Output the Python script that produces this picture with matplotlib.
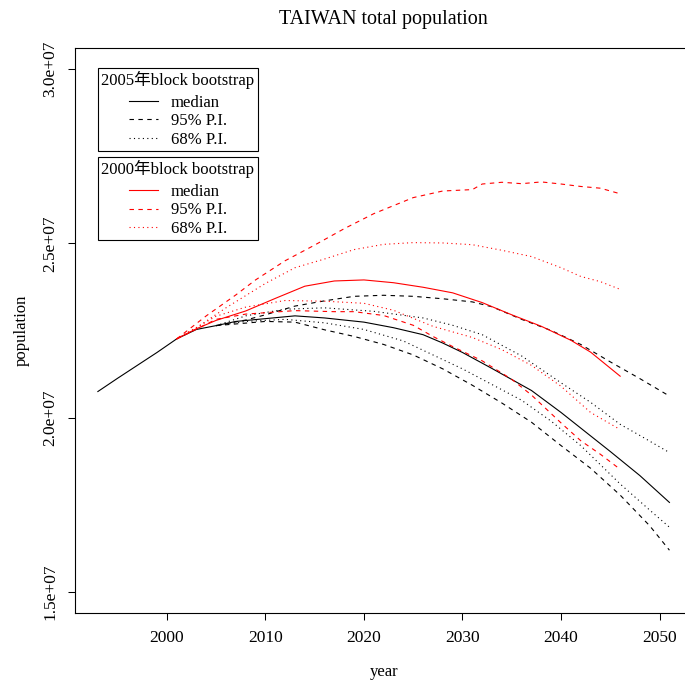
"""
TAIWAN total population projections: block bootstrap medians and
prediction intervals from the 2005 and 2000 base years.
"""

import matplotlib
matplotlib.use("Agg")
import matplotlib.pyplot as plt
from matplotlib.lines import Line2D

plt.rcParams["font.family"] = ["Liberation Serif", "Noto Sans CJK TC", "DejaVu Sans"]

# population in millions
# 2005 base year (black); median includes the observed series from 1993
b_med_years = [1993, 1995, 1997, 1999, 2001, 2003, 2005, 2007, 2010, 2013, 2016,
               2020, 2023, 2026, 2028, 2030, 2033, 2037, 2040, 2045, 2048, 2051]
b_med = [20.75, 21.13, 21.50, 21.87, 22.26, 22.53, 22.64, 22.76, 22.84, 22.92, 22.86,
         22.74, 22.58, 22.38, 22.14, 21.87, 21.41, 20.78, 20.15, 19.03, 18.34, 17.57]

b_hi95_years = [2005, 2008, 2010, 2013, 2016, 2019, 2022, 2025, 2028, 2031, 2033,
                2036, 2039, 2042, 2045, 2048, 2051]
b_hi95 = [22.64, 22.80, 22.95, 23.20, 23.35, 23.48, 23.51, 23.48, 23.41, 23.32, 23.18,
          22.82, 22.50, 22.10, 21.60, 21.12, 20.62]

b_hi68_years = [2005, 2008, 2012, 2016, 2021, 2026, 2029, 2032, 2036, 2040, 2043,
                2046, 2048, 2051]
b_hi68 = [22.64, 22.92, 23.11, 23.15, 23.05, 22.86, 22.65, 22.38, 21.77, 21.00, 20.44,
          19.81, 19.49, 19.00]

b_lo68_years = [2005, 2008, 2012, 2016, 2020, 2024, 2027, 2030, 2033, 2036, 2039,
                2042, 2046, 2049, 2051]
b_lo68 = [22.64, 22.76, 22.82, 22.72, 22.53, 22.20, 21.80, 21.40, 20.95, 20.50, 19.90,
          19.20, 18.10, 17.35, 16.86]

b_lo95_years = [2005, 2010, 2013, 2016, 2019, 2022, 2025, 2028, 2031, 2034, 2037,
                2040, 2043, 2046, 2049, 2051]
b_lo95 = [22.64, 22.76, 22.74, 22.52, 22.33, 22.10, 21.80, 21.40, 20.93, 20.42, 19.87,
          19.20, 18.55, 17.78, 16.90, 16.20]

# 2000 base year (red)
r_med_years = [2001, 2003, 2005, 2008, 2011, 2014, 2017, 2020, 2023, 2026, 2029,
               2032, 2035, 2038, 2041, 2043, 2046]
r_med = [22.26, 22.55, 22.79, 23.06, 23.42, 23.77, 23.92, 23.95, 23.87, 23.74, 23.58,
         23.30, 22.95, 22.62, 22.22, 21.88, 21.19]

r_hi95_years = [2001, 2004, 2007, 2009, 2012, 2015, 2018, 2021, 2025, 2028, 2031,
                2032, 2034, 2036, 2038, 2040, 2042, 2044, 2046]
r_hi95 = [22.26, 22.92, 23.52, 23.95, 24.50, 24.95, 25.42, 25.85, 26.31, 26.50, 26.54,
          26.70, 26.75, 26.71, 26.76, 26.70, 26.63, 26.58, 26.42]

r_hi68_years = [2001, 2003, 2006, 2008, 2010, 2013, 2016, 2019, 2022, 2025, 2028,
                2031, 2034, 2037, 2040, 2042, 2044, 2046]
r_hi68 = [22.26, 22.58, 23.15, 23.50, 23.85, 24.30, 24.55, 24.82, 24.97, 25.02, 25.01,
          24.96, 24.80, 24.62, 24.30, 24.05, 23.90, 23.68]

r_lo68_years = [2001, 2005, 2008, 2012, 2016, 2020, 2023, 2027, 2031, 2034, 2037,
                2040, 2043, 2046]
r_lo68 = [22.26, 22.91, 23.17, 23.36, 23.34, 23.28, 23.08, 22.62, 22.30, 21.95, 21.50,
          20.90, 20.15, 19.66]

r_lo95_years = [2001, 2005, 2008, 2013, 2017, 2019, 2022, 2025, 2027, 2029, 2032,
                2035, 2037, 2040, 2042, 2044, 2046]
r_lo95 = [22.26, 22.82, 22.97, 23.07, 23.04, 23.04, 22.93, 22.65, 22.33, 22.04, 21.63,
          21.10, 20.65, 19.85, 19.34, 18.95, 18.52]

x_ticks = [2000, 2010, 2020, 2030, 2040, 2050]
y_ticks = [1.5e7, 2.0e7, 2.5e7, 3.0e7]

DASHED = (0, (4, 4))
DOTTED = (0, (1, 3))
LW = 0.8


def pop(vals):
    return [v * 1e6 for v in vals]


fig = plt.figure(figsize=(6.85, 6.85), dpi=100)
# R-style plot region; the right edge runs past the figure
ax = fig.add_axes([75 / 685, 72 / 685, 617.3 / 685, 565 / 685])

ax.plot(b_med_years, pop(b_med), color="black", lw=LW)
ax.plot(b_hi95_years, pop(b_hi95), color="black", lw=LW, ls=DASHED)
ax.plot(b_lo95_years, pop(b_lo95), color="black", lw=LW, ls=DASHED)
ax.plot(b_hi68_years, pop(b_hi68), color="black", lw=LW, ls=DOTTED)
ax.plot(b_lo68_years, pop(b_lo68), color="black", lw=LW, ls=DOTTED)

ax.plot(r_med_years, pop(r_med), color="red", lw=LW)
ax.plot(r_hi95_years, pop(r_hi95), color="red", lw=LW, ls=DASHED)
ax.plot(r_lo95_years, pop(r_lo95), color="red", lw=LW, ls=DASHED)
ax.plot(r_hi68_years, pop(r_hi68), color="red", lw=LW, ls=DOTTED)
ax.plot(r_lo68_years, pop(r_lo68), color="red", lw=LW, ls=DOTTED)

# R pads each axis range by 4%
x0, x1 = 1993, 2051
ax.set_xlim(x0 - 0.04 * (x1 - x0), x1 + 0.04 * (x1 - x0))
y0, y1 = 1.5e7, 3.0e7
ax.set_ylim(y0 - 0.04 * (y1 - y0), y1 + 0.04 * (y1 - y0))

ax.set_xticks(x_ticks)
ax.set_xticklabels([str(t) for t in x_ticks])
ax.set_yticks(y_ticks)
ax.set_yticklabels([f"{t:.1e}" for t in y_ticks], rotation=90, va="center")
ax.tick_params(axis="both", direction="out", length=5, width=0.75, labelsize=12.5,
               colors="black")
ax.tick_params(axis="x", pad=7)
ax.tick_params(axis="y", pad=7)
for side in ("left", "bottom", "top", "right"):
    ax.spines[side].set_linewidth(0.8)

ax.set_title("TAIWAN total population", fontsize=14.5, pad=17)
ax.set_xlabel("year", fontsize=12, va="center")
ax.set_ylabel("population", fontsize=12, va="center")
ax.xaxis.set_label_coords(0.5, -0.1044)
ax.yaxis.set_label_coords(-0.0859, 0.5)


def make_legend(color, title, anchor_y):
    handles = [
        Line2D([], [], color=color, lw=LW),
        Line2D([], [], color=color, lw=LW, ls=DASHED),
        Line2D([], [], color=color, lw=LW, ls=DOTTED),
    ]
    leg = ax.legend(handles, ["median", "95% P.I.", "68% P.I."], title=title,
                    loc="upper left", bbox_to_anchor=(0.0373, anchor_y),
                    borderaxespad=0, fancybox=False, framealpha=1,
                    edgecolor="black", fontsize=12, title_fontsize=12,
                    handlelength=1.75, handletextpad=0.75, labelspacing=0.14,
                    borderpad=0.2)
    leg.get_frame().set_linewidth(0.8)
    leg._legend_box.sep = 4
    return leg


leg1 = make_legend("black", "2005年block bootstrap", 0.9646)
ax.add_artist(leg1)
make_legend("red", "2000年block bootstrap", 0.807)

fig.savefig("out.png", dpi=100)
